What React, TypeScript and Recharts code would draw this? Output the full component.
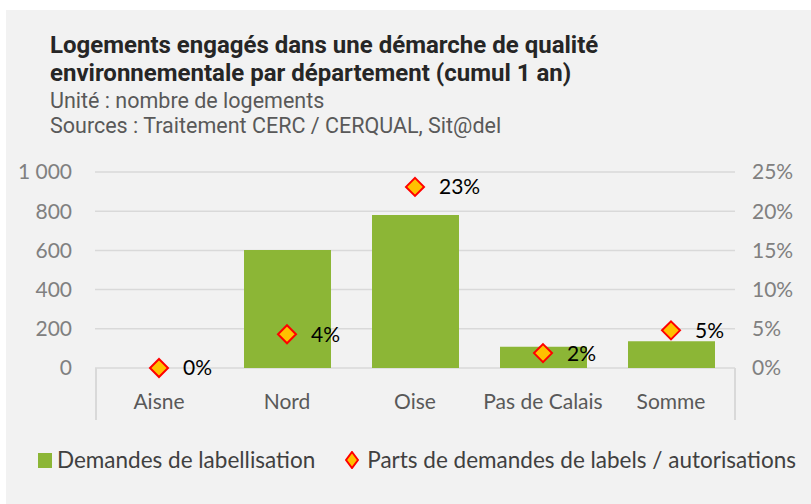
import { ComposedChart, Bar, Line, XAxis, YAxis, CartesianGrid, Legend, LabelList } from 'recharts'

const departements = ['Aisne', 'Nord', 'Oise', 'Pas de Calais', 'Somme']
const demandes = [0, 602, 780, 108, 137]
const parts = [0.0, 0.043, 0.231, 0.019, 0.048]
const leftTicks = [0, 200, 400, 600, 800, 1000]
const rightTicks = [0, 0.05, 0.1, 0.15, 0.2, 0.25]

const data = departements.map((name, i) => ({ name, demandes: demandes[i], part: parts[i] }))

const GREEN = '#8cb636'
const FONT = 'Lato, "Noto Sans", sans-serif'

const fmtThousands = (v: number) => String(v).replace(/\B(?=(\d{3})+(?!\d))/g, ' ')
const fmtPct = (v: number) => `${Math.round(v * 100)}%`

const Diamond = (props: any) => {
  const { cx, cy } = props
  if (cx == null || cy == null) return null
  const r = 9
  return (
    <path
      d={`M${cx},${cy - r} L${cx + r},${cy} L${cx},${cy + r} L${cx - r},${cy} Z`}
      fill="#ffc000"
      stroke="#ff0000"
      strokeWidth={2}
    />
  )
}

const LegendContent = () => (
  <div style={{ display: 'flex', alignItems: 'center', paddingTop: 28, paddingLeft: 3, fontFamily: FONT, fontSize: 22.5, color: '#404040', lineHeight: '24px' }}>
    <svg width={14} height={15} style={{ marginRight: 5 }}>
      <rect x={0} y={0} width={14} height={15} fill={GREEN} />
    </svg>
    <span>Demandes de labellisation</span>
    <svg width={14} height={18} style={{ marginLeft: 30, marginRight: 8 }}>
      <path d="M7,1 L13,9 L7,17 L1,9 Z" fill="#ffc000" stroke="#ff0000" strokeWidth={2} />
    </svg>
    <span>Parts de demandes de labels / autorisations</span>
  </div>
)

export default function App() {
  return (
    <div style={{ position: 'absolute', left: 0, top: 0, width: 811, height: 504, background: '#ffffff', overflow: 'hidden' }}>
      <div style={{ position: 'absolute', left: 6, top: 10, width: 805, height: 494, background: '#f2f2f2' }} />
      <div style={{ position: 'absolute', left: 50, top: 31, fontFamily: 'Roboto, sans-serif', fontWeight: 700, fontSize: 24, lineHeight: '28px', color: '#262626', whiteSpace: 'nowrap' }}>
        Logements engagés dans une démarche de qualité
        <br />
        environnementale par département (cumul 1 an)
      </div>
      <div style={{ position: 'absolute', left: 50, top: 88, fontFamily: 'Roboto, sans-serif', fontSize: 21.5, lineHeight: '25px', color: '#595959', whiteSpace: 'nowrap' }}>
        Unité : nombre de logements
        <br />
        Sources : Traitement CERC / CERQUAL, Sit@del
      </div>
      <div style={{ position: 'absolute', left: 95, top: 368, width: 1.5, height: 52, background: '#d9d9d9' }} />
      <div style={{ position: 'absolute', left: 734, top: 368, width: 1.5, height: 52, background: '#d9d9d9' }} />
      <div style={{ position: 'absolute', left: 0, top: 0 }}>
        <ComposedChart width={811} height={504} data={data} margin={{ top: 172, right: 10, bottom: 24, left: 35 }} barCategoryGap={0}>
          <CartesianGrid horizontal vertical={false} stroke="#d9d9d9" strokeWidth={1.5} yAxisId="left" />
          <XAxis
            dataKey="name"
            axisLine={false}
            tickLine={false}
            height={52}
            tickMargin={20}
            interval={0}
            tick={{ fill: '#595959', fontSize: 21, fontFamily: FONT }}
          />
          <YAxis
            yAxisId="left"
            domain={[0, 1000]}
            ticks={leftTicks}
            width={60}
            axisLine={false}
            tickLine={false}
            tickMargin={17}
            tickFormatter={fmtThousands}
            tick={{ fill: '#808080', fontSize: 21, fontFamily: FONT }}
          />
          <YAxis
            yAxisId="right"
            orientation="right"
            domain={[0, 0.25]}
            ticks={rightTicks}
            width={66}
            axisLine={false}
            tickLine={false}
            tickMargin={11}
            tickFormatter={fmtPct}
            tick={{ fill: '#808080', fontSize: 21, fontFamily: FONT }}
          />
          <Bar yAxisId="left" dataKey="demandes" fill={GREEN} barSize={87} isAnimationActive={false} />
          <Line
            yAxisId="right"
            dataKey="part"
            stroke="none"
            dot={<Diamond />}
            activeDot={false}
            isAnimationActive={false}
          >
            <LabelList
              dataKey="part"
              position="right"
              offset={24}
              formatter={(v: any) => fmtPct(Number(v))}
              style={{ fill: '#000000', fontSize: 21, fontFamily: FONT }}
            />
          </Line>
          <Legend verticalAlign="bottom" height={60} content={<LegendContent />} />
        </ComposedChart>
      </div>
    </div>
  )
}
